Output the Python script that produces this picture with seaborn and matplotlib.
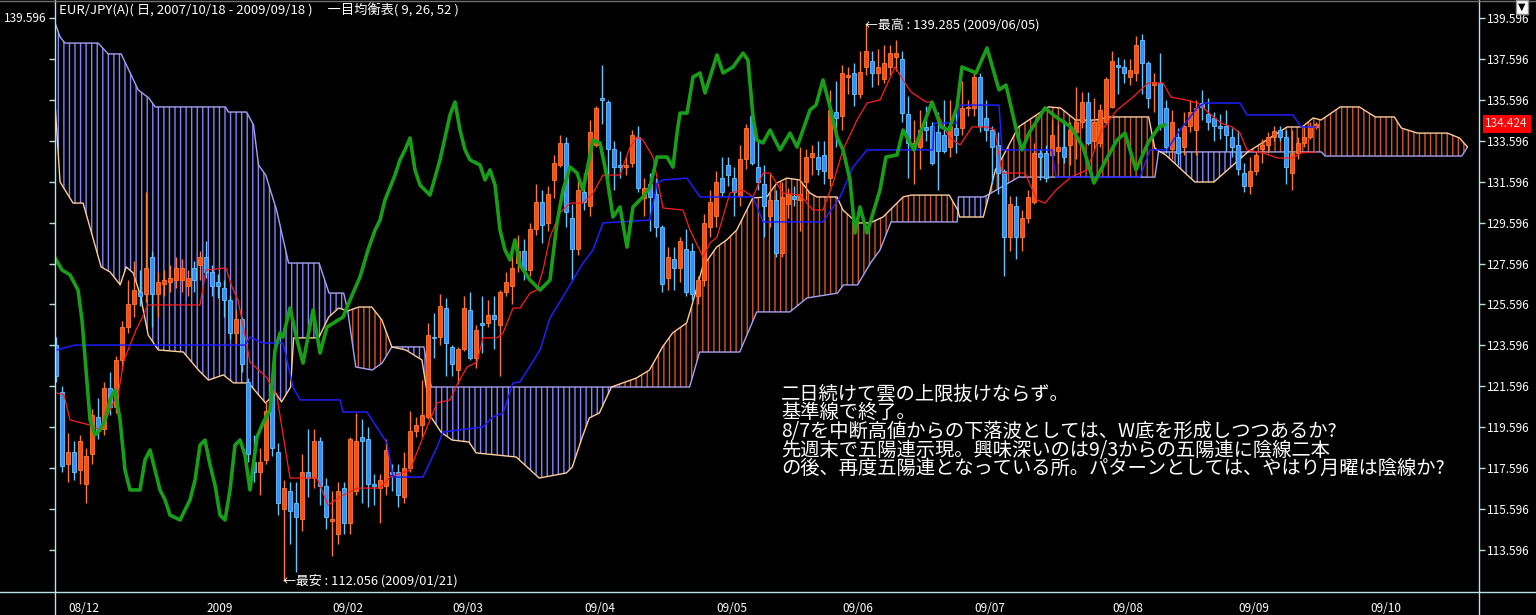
import numpy as np
import pandas as pd
import seaborn as sns
import matplotlib.pyplot as plt
from matplotlib.patches import Polygon
from matplotlib.lines import Line2D

# daily candles, bar 0 = 2008/11/27 ... bar 210 = 2009/09/18
opens = [123.6, 121.3, 117.8, 118.4, 117.5, 116.8, 118.3, 120.1, 119.5, 121.5,
         120.6, 122.9, 124.5, 125.6, 126.2, 126.1, 127.9, 126.1, 126.6, 126.7,
         126.8, 126.8, 126.5, 127.4, 127.5, 127.9, 127.2, 126.7, 126.4, 125.8,
         124.2, 124.9, 121.8, 117.9, 117.4, 118.0, 121.4, 118.4, 115.6, 116.5,
         115.9, 115.1, 117.4, 117.1, 118.9, 116.7, 115.0, 114.4, 116.6, 114.9,
         116.5, 119.1, 119.0, 116.8, 116.6, 116.7, 117.4, 117.4, 116.2, 117.6,
         119.4, 119.7, 120.1, 124.0, 124.0, 125.4, 123.5, 122.4, 123.4, 125.3,
         123.0, 124.7, 124.7, 125.1, 124.6, 126.2, 126.5, 127.6, 128.2, 127.3,
         129.3, 130.6, 129.6, 131.7, 132.4, 133.5, 129.8, 128.3, 131.1, 130.4,
         133.4, 135.7, 135.5, 133.2, 132.4, 132.3, 132.5, 133.8, 130.8, 131.5,
         131.0, 129.4, 126.9, 127.8, 127.4, 128.3, 128.2, 126.0, 126.8, 129.4,
         129.9, 131.8, 132.4, 131.8, 130.9, 132.7, 134.8, 132.3, 131.5, 129.9,
         130.7, 128.1, 130.5, 130.9, 130.7, 131.6, 132.8, 132.8, 132.9, 131.8,
         135.0, 134.8, 136.7, 136.9, 135.9, 137.2, 137.5, 136.9, 136.6, 137.2,
         137.7, 137.6, 134.9, 133.3, 133.3, 134.25, 134.3, 134.0, 133.9, 133.3,
         134.2, 134.2, 135.2, 135.2, 136.7, 134.7, 134.1, 133.4, 132.1, 128.9,
         130.4, 128.9, 129.8, 130.6, 133.0, 133.0, 132.9, 133.1, 133.3, 133.4,
         134.0, 134.5, 135.5, 133.6, 133.5, 134.5, 135.25, 137.3, 137.2, 136.7,
         136.9, 138.5, 137.4, 136.3, 136.4, 135.2, 133.2, 133.8, 133.3, 134.3,
         134.1, 135.45, 134.9, 134.7, 134.3, 134.3, 133.8, 133.4, 132.0, 131.4,
         132.1, 133.2, 133.4, 133.8, 134.1, 133.8, 132.0, 133.0, 133.5, 133.8,
         134.25]
highs = [124.0, 121.6, 119.3, 118.9, 119.2, 118.6, 120.5, 121.0, 121.8, 122.3,
         123.1, 124.8, 126.8, 127.7, 127.3, 131.1, 128.2, 127.2, 127.3, 127.5,
         127.9, 127.8, 127.3, 127.7, 128.2, 128.7, 127.5, 127.1, 126.8, 126.0,
         125.3, 125.0, 122.0, 119.2, 118.6, 120.9, 121.9, 118.8, 117.0, 116.9,
         116.9, 118.3, 119.5, 119.5, 119.1, 117.1, 116.5, 116.9, 116.9, 119.1,
         120.3, 120.0, 119.6, 117.3, 117.3, 119.0, 117.8, 117.8, 118.4, 120.4,
         120.1, 121.9, 124.7, 125.2, 126.1, 125.9, 123.6, 123.5, 126.0, 126.2,
         124.6, 126.0, 125.8, 126.0, 126.3, 127.2, 128.3, 129.0, 128.8, 129.6,
         131.5, 131.2, 131.4, 132.9, 133.9, 133.8, 130.5, 131.7, 132.0, 134.6,
         135.3, 137.3, 135.6, 133.6, 133.1, 132.8, 134.1, 134.3, 131.8, 132.0,
         131.8, 129.5, 128.4, 128.4, 128.9, 129.3, 128.6, 127.0, 130.0, 131.2,
         132.1, 132.8, 132.8, 132.3, 133.4, 134.4, 134.9, 133.6, 132.4, 132.0,
         131.2, 131.6, 131.3, 131.4, 133.3, 133.2, 133.4, 133.6, 133.6, 136.1,
         136.5, 137.3, 137.2, 137.4, 138.0, 139.285, 138.0, 138.1, 138.3, 138.3,
         138.5, 138.0, 135.8, 134.6, 135.1, 135.3, 134.5, 135.0, 135.6, 135.6,
         135.3, 136.5, 135.6, 136.9, 136.9, 135.6, 134.3, 134.0, 132.2, 130.9,
         130.9, 130.2, 131.2, 133.5, 133.2, 133.4, 134.6, 134.4, 134.6, 134.5,
         136.2, 136.0, 136.0, 135.7, 135.4, 136.7, 138.0, 137.7, 137.6, 137.6,
         138.7, 138.8, 137.5, 136.9, 137.9, 135.6, 135.1, 134.2, 135.0, 135.6,
         135.6, 136.1, 135.7, 135.0, 134.9, 135.1, 134.2, 134.1, 132.5, 132.8,
         133.1, 133.7, 134.0, 134.3, 134.3, 134.1, 134.1, 133.8, 134.3, 134.5,
         134.5]
lows = [121.8, 117.4, 116.9, 117.0, 116.8, 115.9, 117.8, 119.0, 119.2, 120.2,
        120.3, 122.4, 124.2, 125.0, 125.5, 125.7, 124.5, 125.0, 126.0, 126.2,
        126.4, 126.2, 126.0, 126.2, 126.8, 126.9, 126.0, 125.9, 125.0, 123.9,
        123.6, 122.3, 117.9, 116.9, 116.3, 117.8, 118.2, 115.3, 112.056, 113.9,
        112.5, 114.5, 116.2, 116.6, 115.8, 114.6, 113.3, 113.9, 114.4, 114.4,
        116.3, 115.9, 115.7, 115.8, 114.9, 116.3, 116.5, 115.7, 115.9, 117.4,
        119.1, 119.1, 120.0, 123.0, 123.6, 122.1, 122.1, 121.7, 123.3, 122.9,
        122.5, 123.2, 124.5, 123.4, 122.1, 126.0, 125.6, 127.2, 126.8, 127.0,
        129.0, 128.6, 129.2, 130.8, 132.3, 129.4, 126.8, 128.0, 130.2, 129.9,
        133.3, 134.4, 131.0, 131.2, 131.8, 131.9, 132.3, 131.1, 129.9, 129.2,
        128.9, 126.2, 126.3, 126.3, 126.7, 126.0, 125.8, 125.6, 126.5, 128.9,
        129.4, 130.9, 131.4, 129.9, 130.4, 132.2, 132.4, 131.2, 128.9, 129.4,
        127.9, 127.9, 129.8, 130.4, 129.2, 130.7, 131.9, 131.9, 131.5, 131.4,
        133.3, 134.1, 135.9, 135.3, 135.7, 136.8, 136.2, 136.3, 136.4, 136.8,
        137.0, 134.5, 131.8, 131.5, 132.2, 133.6, 132.4, 131.2, 133.0, 132.8,
        133.0, 133.9, 134.8, 134.8, 134.0, 133.6, 131.5, 131.0, 127.0, 128.2,
        127.8, 128.2, 129.6, 130.5, 131.7, 131.6, 132.8, 132.5, 132.5, 132.4,
        132.7, 134.2, 133.4, 133.2, 133.3, 134.4, 135.2, 135.9, 136.4, 136.3,
        136.5, 135.9, 135.2, 135.0, 134.1, 133.0, 132.7, 132.4, 132.9, 134.0,
        132.9, 134.6, 134.1, 133.6, 133.7, 133.1, 132.8, 131.9, 131.1, 131.0,
        131.9, 132.5, 133.0, 133.6, 133.6, 131.5, 131.2, 132.7, 133.3, 133.7,
        134.15]
closes = [122.1, 117.7, 118.4, 117.4, 118.9, 118.2, 120.2, 119.4, 121.5, 120.6,
          122.9, 124.5, 125.6, 126.3, 126.0, 127.4, 126.1, 126.7, 126.8, 126.9,
          127.4, 127.4, 126.9, 126.8, 127.9, 127.2, 126.5, 126.5, 125.8, 124.2,
          124.9, 122.7, 118.3, 117.4, 117.9, 120.4, 118.6, 115.9, 116.6, 115.5,
          115.2, 117.4, 117.1, 118.9, 116.7, 115.2, 115.1, 116.5, 114.9, 119.0,
          118.9, 118.9, 116.8, 116.7, 117.0, 118.5, 117.3, 116.3, 117.6, 119.4,
          119.7, 120.2, 124.1, 123.95, 125.5, 123.7, 122.7, 123.4, 125.4, 123.0,
          124.35, 124.6, 125.1, 124.9, 126.2, 126.7, 127.4, 128.2, 127.3, 129.3,
          130.6, 129.5, 131.0, 132.5, 133.5, 130.1, 128.3, 131.2, 130.6, 134.0,
          135.2, 135.6, 133.2, 132.3, 132.3, 132.4, 133.9, 131.3, 131.3, 130.85,
          129.4, 126.6, 127.9, 127.4, 128.7, 126.2, 126.1, 126.8, 129.6, 130.6,
          131.6, 131.1, 131.9, 131.1, 132.7, 134.2, 132.5, 131.6, 130.4, 130.7,
          128.1, 130.85, 131.0, 130.75, 131.0, 132.8, 133.0, 132.2, 132.1, 135.1,
          134.7, 136.9, 136.8, 135.9, 136.95, 138.0, 136.9, 137.2, 137.4, 137.9,
          137.9, 134.95, 133.5, 133.5, 134.1, 134.1, 132.5, 133.1, 133.1, 134.3,
          133.9, 135.2, 135.25, 136.7, 134.3, 134.1, 133.3, 132.0, 128.9, 130.5,
          128.9, 129.8, 130.85, 133.0, 132.8, 131.8, 133.9, 133.3, 132.8, 134.1,
          134.5, 135.5, 133.5, 134.5, 135.1, 136.6, 137.5, 137.2, 136.9, 137.05,
          138.3, 137.4, 135.7, 136.45, 134.3, 133.3, 134.5, 133.0, 134.3, 135.0,
          135.2, 135.25, 134.5, 134.3, 134.2, 133.9, 133.3, 132.2, 131.4, 132.1,
          132.9, 133.4, 133.8, 134.05, 133.8, 132.3, 133.0, 133.5, 133.8, 134.3,
          134.424]

# ichimoku lines, read at their turning points (bar index, price)
tenkan_x = [0.17, 1.33, 2.33, 5.67, 7.33, 8.33, 9.33, 10.33, 11.33, 12.33, 13.33, 14.33, 15.33,
            24.0, 25.0, 28.33, 29.33, 30.33, 31.33, 32.33, 35.17, 36.83, 39.0, 43.5, 45.33,
            47.33, 50.17, 54.0, 55.67, 59.0, 61.17, 63.5, 65.67, 66.83, 68.5, 70.17, 71.17,
            73.5, 74.5, 76.17, 77.33, 79.0, 80.17, 81.17, 82.33, 84.0, 85.67, 87.83, 89.5,
            91.17, 94.0, 95.67, 96.83, 97.83, 99.5, 100.67, 101.17, 104.5, 105.67, 107.83,
            109.0, 110.17, 112.33, 114.5, 116.17, 117.83, 119.0, 121.17, 124.0, 126.17,
            127.83, 129.5, 131.17, 133.5, 135.17, 137.33, 139.83, 141.17, 142.5, 145.0,
            146.0, 148.83, 150.67, 152.67, 155.17, 156.5, 157.67, 161.5, 163.5, 164.83,
            166.67, 169.17, 171.83, 174.33, 176.83, 179.5, 182.0, 184.5, 185.83, 188.33,
            190.33, 192.17, 194.17, 196.0, 197.33, 198.5, 201.17, 203.67, 206.17, 207.5, 210.0]
tenkan_y = [121.27, 121.17, 119.95, 119.70, 119.46, 119.95, 120.68, 121.17, 122.88, 123.61,
            124.35, 124.93, 125.57, 125.57, 127.28, 127.38, 126.45, 125.81, 124.35, 122.78,
            122.00, 121.07, 117.11, 117.11, 115.79, 116.18, 116.62, 116.62, 117.16, 117.50,
            119.12, 120.78, 120.93, 121.66, 122.54, 122.78, 123.96, 123.96, 124.20, 125.42,
            125.42, 126.15, 126.30, 127.28, 128.89, 130.07, 130.55, 130.55, 131.04, 131.92,
            131.92, 133.29, 133.78, 133.63, 132.80, 131.04, 130.31, 130.21, 129.23, 127.91,
            128.60, 128.89, 131.04, 131.19, 130.85, 132.02, 132.02, 131.04, 130.94, 130.21,
            130.21, 131.53, 133.15, 134.61, 135.44, 135.59, 137.20, 136.57, 135.98, 135.49,
            135.49, 133.78, 133.39, 134.27, 134.27, 134.12, 132.02, 132.02, 130.70, 130.55,
            131.19, 131.82, 132.17, 134.12, 135.10, 135.73, 136.42, 136.42, 135.73, 135.59,
            135.44, 134.95, 134.46, 134.27, 133.97, 133.15, 133.00, 132.75, 132.75, 133.00, 133.05]

kijun_x = [0.17, 3.17, 31.5, 32.33, 34.5, 37.83, 39.5, 40.67, 47.33, 47.83, 51.83, 55.17, 56.17,
           61.17, 63.5, 64.5, 71.17, 72.83, 74.5, 76.17, 77.33, 80.67, 82.33, 85.17, 87.83,
           89.5, 91.17, 99.0, 100.17, 101.17, 105.17, 107.33, 116.17, 117.83, 127.83, 130.67,
           132.83, 135.17, 146.17, 146.33, 150.17, 150.67, 157.17, 157.67, 166.0, 166.67,
           180.67, 182.33, 185.17, 187.33, 190.33, 191.5, 197.33, 198.5, 206.17, 207.5, 210.0]
kijun_y = [123.37, 123.61, 123.61, 124.00, 123.71, 123.71, 121.56, 120.93, 120.93, 120.34,
           120.34, 118.82, 117.16, 117.16, 118.63, 119.36, 119.61, 120.10, 120.29, 121.76,
           121.81, 123.37, 124.93, 126.30, 127.62, 128.26, 129.58, 129.72, 131.53, 131.68,
           131.77, 130.85, 130.85, 129.63, 129.63, 130.85, 132.31, 133.15, 133.15, 134.46,
           134.46, 135.34, 135.34, 133.15, 133.15, 131.82, 131.82, 133.15, 133.15, 134.12,
           135.25, 135.44, 135.44, 134.86, 134.86, 134.27, 134.27]

chikou_x = [-0.17, 1.0, 2.33, 3.67, 4.33, 5.0, 5.67, 6.5, 7.33, 8.17, 9.0, 9.83, 10.67, 11.5,
            12.33, 14.0, 14.83, 15.67, 16.5, 17.33, 18.17, 19.0, 20.67, 22.33, 23.17, 24.0,
            24.83, 25.67, 26.5, 27.33, 28.17, 29.0, 29.83, 30.67, 31.5, 32.33, 33.5, 34.5,
            35.67, 36.5, 37.33, 37.83, 39.0, 40.17, 41.17, 42.83, 44.0, 45.17, 47.83, 49.0,
            50.67, 52.0, 53.17, 54.0, 54.83, 56.5, 57.33, 58.17, 59.0, 59.83, 60.67, 62.33,
            64.0, 65.67, 66.5, 67.33, 68.17, 69.0, 70.67, 71.5, 72.33, 73.17, 74.0, 74.83,
            75.67, 76.5, 77.33, 79.0, 80.67, 82.33, 83.5, 84.5, 85.67, 86.83, 87.83, 89.5,
            90.67, 91.83, 92.83, 94.0, 95.17, 96.17, 97.83, 99.0, 100.17, 101.83, 102.83,
            103.5, 104.0, 105.17, 106.17, 107.33, 108.17, 110.17, 111.17, 112.83, 114.5,
            115.33, 116.17, 116.83, 117.83, 119.0, 120.67, 122.33, 123.5, 124.5, 125.67,
            126.67, 127.83, 129.0, 130.17, 131.17, 132.33, 133.17, 134.0, 135.17, 137.33,
            138.33, 140.17, 141.17, 143.0, 146.0, 147.5, 148.83, 150.17, 151.0, 153.33,
            155.17, 157.17, 158.33, 160.33, 161.0, 162.17, 164.83, 166.67, 169.17, 171.17,
            173.0, 175.0, 176.83, 178.17, 180.0, 182.0, 183.83, 184.83]
chikou_y = [127.87, 127.28, 127.04, 126.30, 124.84, 122.39, 119.95, 119.21, 119.46, 119.95,
            120.93, 121.41, 119.95, 117.50, 116.53, 116.53, 117.99, 118.48, 117.50, 116.53,
            116.04, 115.30, 115.06, 116.04, 117.01, 118.72, 118.97, 117.75, 116.77, 115.30,
            115.06, 116.53, 118.72, 118.97, 118.24, 116.53, 119.12, 119.80, 120.44, 123.37,
            124.20, 124.00, 125.42, 123.86, 122.73, 125.32, 123.22, 124.49, 124.98, 125.81,
            126.94, 128.26, 129.23, 129.72, 130.70, 131.92, 132.66, 133.15, 133.73, 132.17,
            131.43, 130.94, 132.66, 134.86, 135.49, 134.12, 133.15, 132.66, 132.41, 131.68,
            132.17, 131.43, 129.23, 128.26, 127.77, 128.75, 127.52, 126.79, 126.30, 126.79,
            129.58, 131.19, 132.31, 132.02, 131.19, 133.63, 133.49, 131.82, 129.87, 130.36,
            128.40, 130.36, 130.85, 131.34, 132.80, 132.80, 132.31, 133.97, 134.95, 134.95,
            136.71, 136.91, 135.93, 137.79, 136.91, 137.20, 137.88, 137.54, 134.76, 133.63,
            133.49, 134.12, 133.15, 133.97, 133.29, 134.12, 135.10, 135.34, 136.57, 135.25,
            133.78, 133.15, 131.68, 129.09, 130.36, 129.09, 131.19, 132.80, 132.90, 134.12,
            133.15, 135.49, 134.27, 134.12, 135.25, 137.20, 136.91, 138.13, 136.08, 136.32,
            133.78, 133.15, 133.97, 135.20, 134.76, 134.27, 133.29, 131.53, 132.66, 133.63,
            133.97, 132.17, 133.49, 134.27, 134.37]

span_a_x = [-0.33, 0.67, 2.84, 4.51, 7.52, 9.02, 10.69, 11.70, 12.87, 14.04, 15.37, 17.04,
            21.22, 23.73, 25.40, 27.90, 29.57, 32.08, 34.92, 36.59, 37.59, 39.10, 39.60,
            43.78, 45.45, 47.12, 48.62, 50.46, 52.63, 54.30, 55.97, 58.31, 60.99, 62.49,
            64.16, 66.00, 68.84, 70.01, 76.69, 80.53, 85.05, 86.05, 87.72, 88.89, 90.56,
            92.57, 96.74, 98.91, 101.09, 102.76, 105.10, 106.10, 107.77, 110.11, 111.78,
            113.45, 115.12, 116.12, 118.46, 120.13, 121.80, 123.98, 125.65, 126.82, 130.16,
            131.16, 133.50, 135.67, 137.84, 141.19, 142.52, 148.87, 150.30, 150.60, 154.55,
            155.56, 156.56, 158.40, 160.40, 162.91, 165.41, 167.42, 169.92, 173.10, 175.77,
            182.12, 183.12, 183.79, 184.96, 189.81, 192.98, 198.66, 205.18, 207.69, 209.52,
            210.86, 214.04, 217.21, 219.88, 223.06, 224.23, 226.90, 231.91, 233.92, 235.25]
span_a_y = [136.17, 131.58, 130.55, 130.55, 127.43, 127.18, 126.55, 127.43, 127.13, 126.06,
            124.10, 123.37, 123.27, 122.39, 121.90, 122.15, 121.76, 121.76, 120.78, 121.27,
            120.83, 121.56, 123.96, 123.96, 124.98, 125.42, 125.28, 125.47, 125.47, 124.84,
            123.52, 123.37, 122.88, 120.10, 119.36, 118.97, 118.87, 118.34, 118.14, 117.11,
            117.36, 117.65, 119.12, 120.05, 120.29, 121.56, 122.00, 122.39, 123.52, 124.20,
            124.69, 125.67, 127.43, 128.40, 128.75, 129.23, 130.21, 130.80, 130.85, 131.53,
            131.77, 131.68, 131.04, 130.85, 130.85, 130.21, 129.58, 129.58, 129.87, 130.85,
            130.94, 130.94, 130.20, 129.87, 129.87, 130.99, 132.17, 133.15, 134.27, 134.76,
            135.25, 135.20, 134.61, 134.61, 134.76, 134.76, 133.24, 133.10, 132.90, 131.58,
            131.58, 133.05, 134.27, 134.27, 134.71, 134.61, 135.25, 135.25, 134.76, 134.76,
            134.22, 133.97, 133.97, 133.73, 133.29]
span_b_x = [-0.33, 0.67, 1.50, 7.02, 8.69, 10.86, 13.70, 15.45, 16.54, 28.24, 28.74, 31.75,
            32.92, 33.75, 34.95, 36.76, 38.76, 43.85, 45.50, 47.95, 48.62, 49.96, 52.70,
            54.35, 55.97, 61.32, 62.55, 92.57, 105.60, 107.27, 113.95, 116.79, 122.31,
            125.15, 130.25, 131.25, 133.60, 135.75, 137.34, 139.18, 150.20, 150.30, 150.40,
            154.60, 155.56, 160.45, 183.15, 183.79, 184.13, 198.66, 210.90, 211.53, 234.30,
            235.25]
span_b_y = [139.50, 138.67, 138.37, 138.37, 137.84, 137.84, 136.08, 135.69, 135.25, 135.25,
            135.00, 135.00, 134.37, 132.41, 131.92, 130.21, 127.62, 127.62, 126.15, 126.15,
            125.28, 122.54, 122.39, 122.73, 123.52, 123.52, 121.56, 121.56, 121.56, 123.27,
            123.27, 125.23, 125.23, 125.91, 126.15, 126.55, 126.55, 127.62, 128.26, 129.63,
            129.63, 130.20, 130.85, 130.85, 130.99, 131.82, 131.82, 133.10, 133.05, 133.05,
            133.05, 132.85, 132.85, 133.29]
# where the two spans cross (cloud colour changes)
twist_x = [48.62, 55.97, 92.57, 150.30, 155.56, 183.79, 198.66]

month_pos = [2, 25, 46, 66, 88, 110, 131, 153, 176, 197, 219]
month_labels = ["08/12", "2009", "09/02", "09/03", "09/04", "09/05",
                "09/06", "09/07", "09/08", "09/09", "09/10"]
price_ticks = [113.596, 115.596, 117.596, 119.596, 121.596, 123.596, 125.596,
               127.596, 129.596, 131.596, 133.596, 135.596, 137.596, 139.596]
last_price = 134.424

memo = ["二日続けて雲の上限抜けならず。",
        "基準線で終了。",
        "8/7を中断高値からの下落波としては、W底を形成しつつあるか?",
        "先週末で五陽連示現。興味深いのは9/3からの五陽連に陰線二本",
        "の後、再度五陽連となっている所。パターンとしては、やはり月曜は陰線か?"]

sns.set_style("dark", {"axes.facecolor": "black", "figure.facecolor": "black"})
plt.rcParams['font.family'] = ['Noto Sans CJK JP', 'DejaVu Sans']
plt.rcParams['hatch.linewidth'] = 1.0

W, H = 1536, 615
fig = plt.figure(figsize=(W / 100, H / 100), dpi=100)
ax = fig.add_axes([55 / W, 23 / H, 1424 / W, 590 / H])
ax.set_facecolor("black")
ax.grid(False)
frame = "#b4e4e4"

# cloud
a_x, a_y = np.array(span_a_x), np.array(span_a_y)
b_x, b_y = np.array(span_b_x), np.array(span_b_y)
edges = [span_a_x[0]] + twist_x + [span_a_x[-1]]
for x0, x1 in zip(edges[:-1], edges[1:]):
    ma = (a_x >= x0 - 1e-6) & (a_x <= x1 + 1e-6)
    mb = (b_x >= x0 - 1e-6) & (b_x <= x1 + 1e-6)
    pts = list(zip(a_x[ma], a_y[ma])) + list(zip(b_x[mb], b_y[mb]))[::-1]
    col = "#8282ff" if b_y[mb].mean() > a_y[ma].mean() else "#d4562a"
    ax.add_patch(Polygon(pts, closed=True, fill=False, hatch="|||",
                         edgecolor=col, lw=0, zorder=1))
sns.lineplot(x=span_b_x, y=span_b_y, ax=ax, color="#a6a2f2", lw=1,
             sort=False, estimator=None, zorder=2)
sns.lineplot(x=span_a_x, y=span_a_y, ax=ax, color="#ffcc9a", lw=1,
             sort=False, estimator=None, zorder=2)

# candles
df = pd.DataFrame({"o": opens, "h": highs, "l": lows, "c": closes})
df["i"] = np.arange(len(df))
up = df["c"] >= df["o"]
wick = np.where(up, "#ff7a2e", "#62c8ff")
body = np.where(up, "#ff4a1c", "#3c8cff")
ax.vlines(df["i"], df["l"], df["h"], colors=wick, lw=1, zorder=3)
ax.bar(df["i"], np.maximum((df["c"] - df["o"]).abs(), 0.06),
       bottom=np.minimum(df["o"], df["c"]), width=0.62,
       color=body, edgecolor=wick, lw=0.6, zorder=4)

sns.lineplot(x=tenkan_x, y=tenkan_y, ax=ax, color="#ff1e1e", lw=0.9,
             sort=False, estimator=None, zorder=5)
sns.lineplot(x=kijun_x, y=kijun_y, ax=ax, color="#1e1eff", lw=1.1,
             sort=False, estimator=None, zorder=5)
sns.lineplot(x=chikou_x, y=chikou_y, ax=ax, color="#199e19", lw=2.6,
             sort=False, estimator=None, zorder=6)

ax.set_xlim(-0.17, 237.17)
ax.set_ylim(111.541, 140.378)
for s in ax.spines.values():
    s.set_visible(False)

ax.set_yticks(price_ticks)
ax.set_yticklabels([f"{v:.3f}" for v in price_ticks])
ax.yaxis.set_ticks_position("both")
ax.tick_params(axis="y", direction="out", length=4, width=1, color=frame,
               labelleft=False, labelright=True, labelcolor="white",
               labelsize=8.5, pad=2)
ax.set_xticks(month_pos)
ax.set_xticklabels(month_labels)
ax.tick_params(axis="x", direction="out", length=6, width=1, color=frame,
               labelcolor="white", labelsize=8.5, pad=1)
for lbl in ax.get_xticklabels():
    lbl.set_ha("left")
ax.set_xlabel("")
ax.set_ylabel("")

# frame lines running to the figure edges
fig.add_artist(Line2D([55 / W, 55 / W], [0, 1], color=frame, lw=1))
fig.add_artist(Line2D([1479 / W, 1479 / W], [0, 1], color=frame, lw=1))
fig.add_artist(Line2D([0, 1], [23 / H, 23 / H], color=frame, lw=1))
fig.add_artist(Line2D([0, 1], [1 - 1 / H, 1 - 1 / H], color="#707070", lw=1))

def fy(y):
    return 1 - y / H

fig.text(4 / W, fy(18), "139.596", color="white", fontsize=8.5, va="center")
fig.text(59 / W, fy(10), "EUR/JPY(A)( 日, 2007/10/18 - 2009/09/18 )     一目均衡表( 9, 26, 52 )",
         color="white", fontsize=9.5, va="center")
fig.text(865 / W, fy(25), "←最高 : 139.285 (2009/06/05)", color="white",
         fontsize=9.3, va="center")
fig.text(283 / W, fy(581), "←最安 : 112.056 (2009/01/21)", color="white",
         fontsize=9.3, va="center")
for k, line in enumerate(memo):
    fig.text(781 / W, fy(394 + 18.7 * k), line, color="white", fontsize=13.9,
             va="center")
ax.text(1.0045, last_price, f"{last_price:.3f}", transform=ax.get_yaxis_transform(),
        color="#e0e0e0", fontsize=8.5, va="center", ha="left",
        bbox=dict(boxstyle="square,pad=0.22", fc="#ff0000", ec="none"))
fig.text(1522 / W, fy(7), "▼", color="black", fontsize=7, ha="center", va="center",
         family="DejaVu Sans",
         bbox=dict(boxstyle="square,pad=0.2", fc="white", ec="#909090"))

fig.savefig("out.png", dpi=100, facecolor="black")
